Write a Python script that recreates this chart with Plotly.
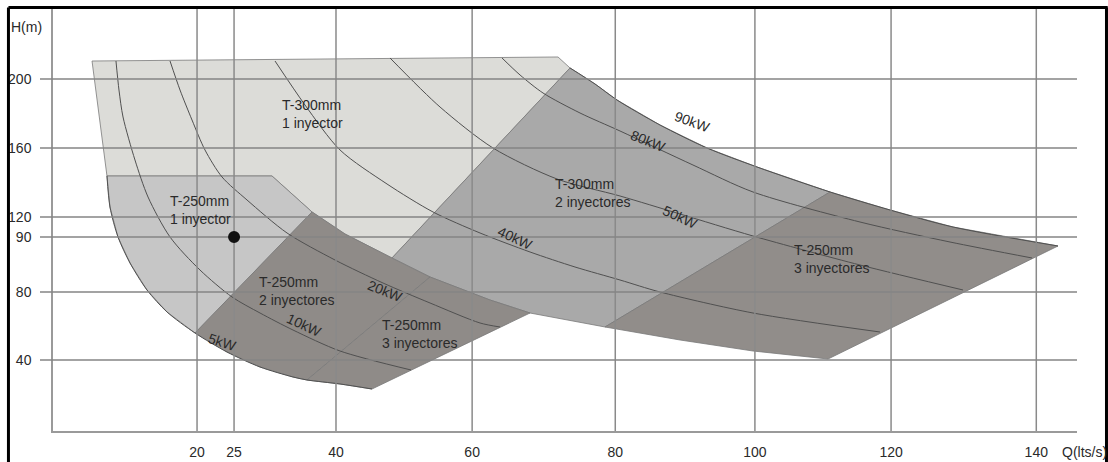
import plotly.graph_objects as go

# ---------------- data (Q in l/s, H on the chart's linear height scale) ----------------
q_tick_pos = [20.2, 25.5, 40.1, 59.6, 80.1, 100.1, 119.6, 140.4]
q_tick_text = ["20", "25", "40", "60", "80", "100", "120", "140"]
h_tick_pos = [40, 78.7, 110.05, 121.4, 160.7, 200]
h_tick_text = ["40", "80", "90", "120", "160", "200"]

# operating regions
t300_1_q = [5.16, 71.90, 73.62, 48.12, 41.39, 36.67, 30.94, 7.30]
t300_1_h = [210.28, 212.56, 206.30, 98.09, 111.76, 124.29, 144.79, 144.79]

t300_2_q = [73.62, 77.20, 80.35, 86.51, 93.24, 100.40, 110.86, 78.63, 67.89, 62.16, 53.57, 48.12]
t300_2_h = [206.30, 197.18, 188.07, 173.83, 160.73, 149.92, 135.68, 58.80, 66.77, 74.17, 87.27, 98.09]

t300_3_q = [110.86, 119.45, 128.47, 143.51, 110.57, 99.83, 89.37, 78.63]
t300_3_h = [135.68, 125.43, 115.75, 104.93, 40.57, 45.13, 51.40, 58.80]

t250_1_q = [7.30, 30.94, 36.67, 19.91, 15.90, 13.03, 10.60, 8.88, 7.73]
t250_1_h = [144.79, 144.79, 124.29, 55.38, 67.34, 79.87, 95.24, 110.05, 127.13]

t250_2_q = [36.67, 41.39, 48.12, 53.57, 35.95, 33.94, 29.22, 24.49, 19.91]
t250_2_h = [124.29, 111.76, 98.09, 87.27, 28.62, 30.33, 36.02, 44.56, 55.38]

t250_3_q = [53.57, 62.16, 67.89, 45.26, 40.68, 35.95]
t250_3_h = [87.27, 74.17, 66.77, 23.49, 26.34, 28.62]

# iso-power curves
kw5_q = [7.30, 7.73, 8.88, 10.60, 13.03, 15.90, 19.91, 24.49, 29.22, 33.94, 35.95, 40.68, 45.26]
kw5_h = [144.79, 127.13, 110.05, 95.24, 79.87, 67.34, 55.38, 44.56, 36.02, 30.33, 28.62, 26.34, 23.49]
kw10_q = [8.59, 9.02, 9.60, 11.31, 13.18, 16.33, 20.62, 25.21, 29.22, 33.94, 40.68, 50.85]
kw10_h = [210.28, 193.76, 178.39, 153.90, 132.83, 110.05, 91.26, 75.89, 66.77, 57.09, 45.13, 34.31]
kw20_q = [16.33, 17.76, 19.48, 21.34, 23.78, 27.36, 33.09, 39.96, 46.83, 53.57, 60.73, 63.59]
kw20_h = [210.28, 193.76, 176.68, 159.59, 144.22, 131.12, 112.33, 96.95, 83.86, 72.47, 61.08, 58.80]
kw40_q = [31.37, 35.66, 40.68, 47.41, 54.00, 60.73, 67.89, 74.33, 80.78, 86.51, 99.83, 118.02]
kw40_h = [210.28, 185.22, 159.59, 140.23, 124.29, 112.33, 101.51, 92.97, 85.56, 78.73, 66.77, 55.95]
kw50_q = [47.84, 55.00, 62.59, 71.76, 80.78, 89.37, 99.83, 115.15, 129.91]
kw50_h = [211.99, 184.08, 160.73, 143.08, 133.40, 123.15, 110.62, 94.10, 79.87]
kw80_q = [63.88, 66.46, 69.75, 75.05, 80.78, 91.23, 99.83, 115.15, 128.04, 139.79]
kw80_h = [211.99, 202.31, 192.06, 180.67, 170.42, 151.05, 135.68, 118.59, 107.20, 98.09]
kw90_q = [73.62, 77.20, 80.35, 86.51, 93.24, 100.40, 110.86, 119.45, 128.47, 143.51]
kw90_h = [206.30, 197.18, 188.07, 173.83, 160.73, 149.92, 135.68, 125.43, 115.75, 104.93]

# labels
region_text = ["T-300mm<br>1 inyector", "T-250mm<br>1 inyector", "T-250mm<br>2 inyectores",
               "T-250mm<br>3 inyectores", "T-300mm<br>2 inyectores", "T-250mm<br>3 inyectores"]
region_q = [32.08, 16.04, 28.79, 46.40, 71.18, 105.41]
region_h = [180.1, 125.43, 79.3, 54.53, 135.39, 97.24]

kw_text = ["5kW", "10kW", "20kW", "40kW", "50kW", "80kW", "90kW"]
kw_q = [23.78, 35.52, 47.12, 65.74, 89.37, 84.79, 91.23]
kw_h = [50.26, 59.94, 79.30, 109.48, 121.44, 164.72, 175.54]
kw_angle = [18, 25, 22, 25, 25, 22, 20]

point_q = [25.5]
point_h = [110.05]

# ---------------- figure ----------------
FONT = "Liberation Sans, Arial, sans-serif"
fig = go.Figure()

regions = [
    (t300_1_q, t300_1_h, "#dcdcd8"),
    (t300_2_q, t300_2_h, "#a9a9a9"),
    (t300_3_q, t300_3_h, "#918d8a"),
    (t250_1_q, t250_1_h, "#c6c6c6"),
    (t250_2_q, t250_2_h, "#8f8b88"),
    (t250_3_q, t250_3_h, "#8f8b88"),
]
for q, h, c in regions:
    fig.add_trace(go.Scatter(x=q + [q[0]], y=h + [h[0]], mode="lines", fill="toself",
                             fillcolor=c, line=dict(color="#7a7a7a", width=0.8),
                             hoverinfo="skip", showlegend=False))

for q, h in [(kw5_q, kw5_h), (kw10_q, kw10_h), (kw20_q, kw20_h), (kw40_q, kw40_h),
             (kw50_q, kw50_h), (kw80_q, kw80_h), (kw90_q, kw90_h)]:
    fig.add_trace(go.Scatter(x=q, y=h, mode="lines",
                             line=dict(color="#505050", width=1, shape="spline", smoothing=0.8),
                             hoverinfo="skip", showlegend=False))

# grid lines drawn above the filled regions
shapes = []
for q in q_tick_pos:
    shapes.append(dict(type="line", xref="x", yref="paper", x0=q, x1=q, y0=0, y1=1,
                       line=dict(color="#8a8a8a", width=1.5), layer="above"))
for h in h_tick_pos:
    shapes.append(dict(type="line", xref="paper", yref="y", x0=-13 / 1024, x1=1, y0=h, y1=h,
                       line=dict(color="#858585", width=1.5), layer="above"))
# operating point (above the grid)
shapes.append(dict(type="circle", xref="x", yref="y", xsizemode="pixel", ysizemode="pixel",
                   xanchor=point_q[0], yanchor=point_h[0], x0=-6, x1=6, y0=-6, y1=6,
                   fillcolor="#111111", line=dict(color="#111111", width=0), layer="above"))
# black frame (left, top, right)
for x0, y0, x1, y1 in [(-0.0435, -0.08, -0.0435, 1.001), (-0.0435, 1.001, 1.03, 1.001),
                       (1.0288, -0.08, 1.0288, 1.001)]:
    shapes.append(dict(type="line", xref="paper", yref="paper", x0=x0, y0=y0, x1=x1, y1=y1,
                       line=dict(color="black", width=3), layer="above"))

annotations = []
for t, q, h in zip(region_text, region_q, region_h):
    annotations.append(dict(x=q, y=h, text=t, showarrow=False, xanchor="left", yanchor="middle",
                            align="left", font=dict(family=FONT, size=14, color="#2a2a2a")))
for t, q, h, a in zip(kw_text, kw_q, kw_h, kw_angle):
    annotations.append(dict(x=q, y=h, text=t, showarrow=False, textangle=a,
                            font=dict(family=FONT, size=14, color="#2a2a2a")))
annotations.append(dict(x=-0.043, y=0.955, xref="paper", yref="paper", text="H(m)",
                        showarrow=False, xanchor="left", yanchor="middle",
                        font=dict(family=FONT, size=14, color="#2a2a2a")))
annotations.append(dict(x=0.983, y=-0.05, xref="paper", yref="paper", text="Q(lts/s)",
                        showarrow=False, xanchor="left", yanchor="middle",
                        font=dict(family=FONT, size=14, color="#2a2a2a")))

fig.update_layout(
    width=1108, height=462,
    margin=dict(l=53, r=31, t=8, b=31, autoexpand=False),
    paper_bgcolor="white", plot_bgcolor="white",
    shapes=shapes, annotations=annotations,
    xaxis=dict(range=[-0.43, 146.23], tickvals=q_tick_pos, ticktext=q_tick_text,
               showgrid=False, zeroline=False, showline=True, linecolor="#9a9a9a", linewidth=1.5,
               ticks="", ticklabelstandoff=7, automargin=False,
               tickfont=dict(family=FONT, size=14, color="#2a2a2a")),
    yaxis=dict(range=[-0.43, 240.46], tickvals=h_tick_pos, ticktext=h_tick_text,
               showgrid=False, zeroline=False, showline=True, linecolor="#9a9a9a", linewidth=1.5,
               ticks="", ticklabelstandoff=17, automargin=False,
               tickfont=dict(family=FONT, size=14, color="#2a2a2a")),
)

# the page itself should have no body margin so the 1108x462 figure fills the window exactly
fig.write_html("out.html", config={"displayModeBar": False},
               post_script="document.body.style.margin='0';document.body.style.overflow='hidden';")
